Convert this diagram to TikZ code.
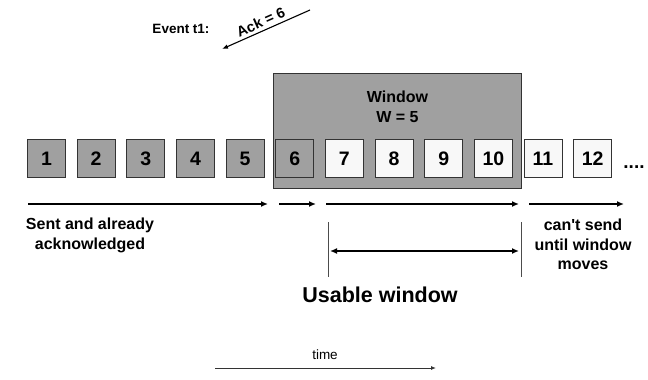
\documentclass[tikz,border=0pt]{standalone}
\usepackage{fontspec}
\setmainfont{Liberation Sans}
\usetikzlibrary{arrows.meta}
\definecolor{boxgray}{HTML}{A0A0A0}
\definecolor{wingray}{HTML}{A0A0A0}
\definecolor{light}{HTML}{F8F8F8}
\begin{document}
\begin{tikzpicture}[x=1pt,y=-1pt,
  seg/.style={draw=black!80, line width=0.9pt, minimum width=38pt, minimum height=38pt,
    inner sep=0pt, font=\fontsize{19.5}{22}\selectfont\bfseries},
  acked/.style={seg, fill=boxgray},
  open/.style={seg, fill=light},
  winbox/.style={draw=black!80, line width=0.9pt, fill=wingray, minimum width=248pt,
    minimum height=115pt, inner sep=0pt},
  lbl/.style={align=center, inner sep=0pt, font=\fontsize{16}{19.5}\selectfont\bfseries},
  bigarrow/.style={line width=1.8pt, -{Latex[length=7pt,width=6pt]}},
  dblarrow/.style={line width=1.8pt, {Latex[length=7pt,width=6pt]}-{Latex[length=7pt,width=6pt]}},
  thinline/.style={draw=black!70, line width=0.8pt}
]
\useasboundingbox (0,0) rectangle (648,380);

% window
\node[winbox] (win) at (397.5,131) {};
\node[align=center, inner sep=0pt, font=\fontsize{16}{20}\selectfont\bfseries] (wtxt) at (397.5,107) {Window\\W = 5};

% segments
\foreach \i in {1,...,6} {
  \node[acked] (b\i) at ({46.5+(\i-1)*49.65},158.5) {\i};
}
\foreach \i in {7,...,12} {
  \node[open] (b\i) at ({46.5+(\i-1)*49.65},158.5) {\i};
}
\node[inner sep=0pt, anchor=base, font=\fontsize{19}{22}\selectfont\bfseries] (dots) at (634,168) {....};

% arrows under segments
\coordinate (a1s) at (28,204);  \coordinate (a1e) at (268,204);
\coordinate (a2s) at (279,204); \coordinate (a2e) at (316,204);
\coordinate (a3s) at (326,204); \coordinate (a3e) at (519,204);
\coordinate (a4s) at (529,204); \coordinate (a4e) at (624,204);
\draw[bigarrow] (a1s) -- (a1e);
\draw[bigarrow] (a2s) -- (a2e);
\draw[bigarrow] (a3s) -- (a3e);
\draw[bigarrow] (a4s) -- (a4e);

% usable window markers
\coordinate (v1t) at (328,222); \coordinate (v1b) at (328,277);
\coordinate (v2t) at (521,222); \coordinate (v2b) at (521,277);
\draw[thinline] (v1t) -- (v1b);
\draw[thinline] (v2t) -- (v2b);
\coordinate (ds) at (330,251); \coordinate (de) at (519,251);
\draw[dblarrow] (ds) -- (de);

% labels
\node[lbl] (sent) at (90,235.5) {Sent and already\\acknowledged};
\node[lbl] (cant) at (583,244.5) {can\textquotesingle t send\\until window\\moves};
\node[inner sep=0pt, font=\fontsize{21.5}{24}\selectfont\bfseries] (usable) at (380,295) {Usable window};

% event
\node[inner sep=0pt, font=\fontsize{13.5}{16}\selectfont\bfseries] (event) at (181,29) {Event t1:};
\coordinate (acks) at (310,10);
\coordinate (acke) at (222,49);
\draw[line width=1.1pt, -{Latex[length=6pt,width=4.5pt]}] (acks) -- node[pos=0.52, sloped, above, inner sep=3pt, font=\fontsize{14.5}{16}\selectfont\bfseries] (ack) {Ack = 6} (acke);

% time
\node[inner sep=0pt, font=\fontsize{13.5}{16}\selectfont] (time) at (325,355) {time};
\coordinate (ts) at (215,368); \coordinate (te) at (436,368);
\draw[draw=black!80, line width=0.9pt, -{Latex[length=5pt,width=4pt]}] (ts) -- (te);
\end{tikzpicture}
\end{document}
